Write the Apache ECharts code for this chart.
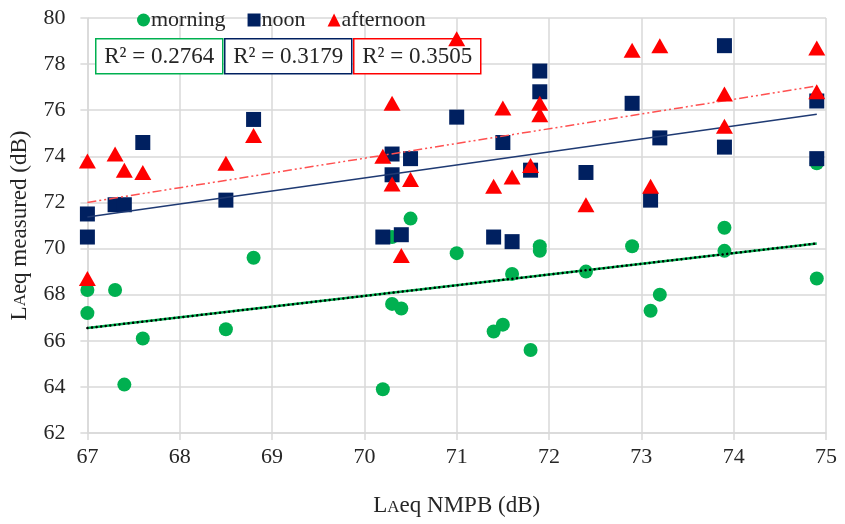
<!DOCTYPE html>
<html>
<head>
<meta charset="utf-8">
<script src="https://cdn.jsdelivr.net/npm/echarts@6/dist/echarts.min.js"></script>
<style>
  html, body { margin: 0; padding: 0; background: #fff; }
  #chart { width: 845px; height: 524px; }
</style>
</head>
<body>
<div id="chart"></div>
<script>
// Measured vs. NMPB-predicted LAeq, by time of day
const seriesNames = ['morning', 'noon', 'afternoon'];

const morningX = [67.0, 67.0, 67.3, 67.4, 67.6, 68.5, 68.8, 70.2, 70.3, 70.3, 70.4, 70.5, 71.0, 71.4, 71.5, 71.6, 71.8, 71.9, 71.9, 72.4, 72.9, 73.1, 73.2, 73.9, 73.9, 74.9, 74.9];
const morningY = [68.2, 67.2, 68.2, 64.1, 66.1, 66.5, 69.6, 63.9, 70.5, 67.6, 67.4, 71.3, 69.8, 66.4, 66.7, 68.9, 65.6, 70.1, 69.9, 69.0, 70.1, 67.3, 68.0, 70.9, 69.9, 73.7, 68.7];

const noonX = [67.0, 67.0, 67.3, 67.4, 67.6, 68.5, 68.8, 70.2, 70.3, 70.3, 70.4, 70.5, 71.0, 71.4, 71.5, 71.6, 71.8, 71.9, 71.9, 72.4, 72.9, 73.1, 73.2, 73.9, 73.9, 74.9, 74.9];
const noonY = [71.5, 70.5, 71.9, 71.9, 74.6, 72.1, 75.6, 70.5, 74.1, 73.2, 70.6, 73.9, 75.7, 70.5, 74.6, 70.3, 73.4, 77.7, 76.8, 73.3, 76.3, 72.1, 74.8, 78.8, 74.4, 76.4, 73.9];

const afternoonX = [67.0, 67.0, 67.3, 67.4, 67.6, 68.5, 68.8, 70.2, 70.3, 70.3, 70.4, 70.5, 71.0, 71.4, 71.5, 71.6, 71.8, 71.9, 71.9, 72.4, 72.9, 73.1, 73.2, 73.9, 73.9, 74.9, 74.9];
const afternoonY = [73.8, 68.7, 74.1, 73.4, 73.3, 73.7, 74.9, 74.0, 76.3, 72.8, 69.7, 73.0, 79.1, 72.7, 76.1, 73.1, 73.6, 76.3, 75.8, 71.9, 78.6, 72.7, 78.8, 76.7, 75.3, 78.7, 76.8];

// Linear trend lines: end points over the measured x span
const trendX = [67.0, 74.9];
const morningTrendY = [66.55, 70.22];
const noonTrendY = [71.37, 75.83];
const afternoonTrendY = [72.0, 77.05];

const rSquared = ['0.2764', '0.3179', '0.3505'];

const xTicks = [67, 68, 69, 70, 71, 72, 73, 74, 75];
const yTicks = [62, 64, 66, 68, 70, 72, 74, 76, 78, 80];

const colors = { morning: '#00b050', noon: '#002060', afternoon: '#ff0000' };
const FONT = '"Liberation Serif", "DejaVu Serif", serif';
const TEXT = '#262626';

function pairs(xs, ys) { return xs.map((x, i) => [x, ys[i]]); }

const chart = echarts.init(document.getElementById('chart'), null, { renderer: 'canvas' });

const gridLine = { show: true, lineStyle: { color: '#d9d9d9', width: 1.5 } };
const axisLine = { show: true, lineStyle: { color: '#d9d9d9', width: 1.5 } };
const axisTick = { show: true, length: 7, lineStyle: { color: '#d9d9d9', width: 1.5 } };

// "L" with a small-cap "A" followed by "eq"
const titleRich = {
  big: { fontFamily: FONT, fontSize: 23, color: TEXT, lineHeight: 26 },
  sc: { fontFamily: FONT, fontSize: 17, color: TEXT, lineHeight: 20, verticalAlign: 'bottom', padding: [0, 0, 3, 0] }
};

const option = {
  animation: false,
  backgroundColor: '#ffffff',
  grid: { left: 86, right: 19, top: 18, bottom: 87, containLabel: false },
  legend: {
    top: 4, left: 132,
    itemGap: 22, itemWidth: 13, itemHeight: 13,
    textStyle: { fontFamily: FONT, fontSize: 22, color: TEXT, padding: [0, 0, 0, -4] },
    data: [
      { name: 'morning', icon: 'circle' },
      { name: 'noon', icon: 'rect' },
      { name: 'afternoon', icon: 'triangle' }
    ]
  },
  xAxis: {
    type: 'value', min: xTicks[0], max: xTicks[xTicks.length - 1], interval: 1,
    axisLine, splitLine: gridLine, axisTick,
    axisLabel: { fontFamily: FONT, fontSize: 22, color: TEXT, margin: 13 },
    name: '{big|L}{sc|A}{big|eq NMPB (dB)}',
    nameLocation: 'middle', nameGap: 60,
    nameTextStyle: { rich: titleRich }
  },
  yAxis: {
    type: 'value', min: yTicks[0], max: yTicks[yTicks.length - 1], interval: 2,
    axisLine, splitLine: gridLine, axisTick,
    axisLabel: { fontFamily: FONT, fontSize: 22, color: TEXT, margin: 22 },
    name: '{big|L}{sc|A}{big|eq measured (dB)}',
    nameLocation: 'middle', nameGap: 52, nameRotate: 90,
    nameTextStyle: { rich: titleRich }
  },
  series: [
    // trend lines
    { type: 'line', data: pairs(trendX, morningTrendY), symbol: 'none', silent: true, z: 3,
      lineStyle: { color: colors.morning, width: 2.5 } },
    { type: 'line', data: pairs(trendX, morningTrendY), symbol: 'none', silent: true, z: 4,
      lineStyle: { color: '#000', width: 2.5, type: [0.1, 4.5], cap: 'round' } },
    { type: 'line', data: pairs(trendX, noonTrendY), symbol: 'none', silent: true, z: 4,
      lineStyle: { color: '#1f3a73', width: 1.5 } },
    { type: 'line', data: pairs(trendX, afternoonTrendY), symbol: 'none', silent: true, z: 4,
      lineStyle: { color: '#ff5050', width: 1.5, type: [9, 3, 2, 3, 2, 3] } },
    // measurements
    { name: 'morning', type: 'scatter', data: pairs(morningX, morningY), symbol: 'circle', symbolSize: 14,
      itemStyle: { color: colors.morning, opacity: 1 }, z: 2 },
    { name: 'noon', type: 'scatter', data: pairs(noonX, noonY), symbol: 'rect', symbolSize: 15,
      itemStyle: { color: colors.noon, opacity: 1 }, z: 3 },
    { name: 'afternoon', type: 'scatter', data: pairs(afternoonX, afternoonY), symbol: 'triangle', symbolSize: [17, 15],
      itemStyle: { color: colors.afternoon, opacity: 1 }, z: 5 }
  ]
};
chart.setOption(option);

// R² boxes above the plot
const boxColors = [colors.morning, colors.noon, colors.afternoon];
const boxLeft = [95, 224, 353];
const boxWidth = 127;
chart.setOption({
  graphic: rSquared.map((r, i) => ({
    type: 'group', left: boxLeft[i], top: 38, z: 100,
    children: [
      { type: 'rect', shape: { x: 0, y: 0, width: boxWidth, height: 35 },
        style: { fill: '#fff', stroke: boxColors[i], lineWidth: 1.5 } },
      { type: 'text', x: boxWidth / 2, y: 18,
        style: { text: 'R² = ' + r, font: '23px ' + FONT, fill: TEXT, align: 'center', verticalAlign: 'middle' } }
    ]
  }))
});
</script>
</body>
</html>
